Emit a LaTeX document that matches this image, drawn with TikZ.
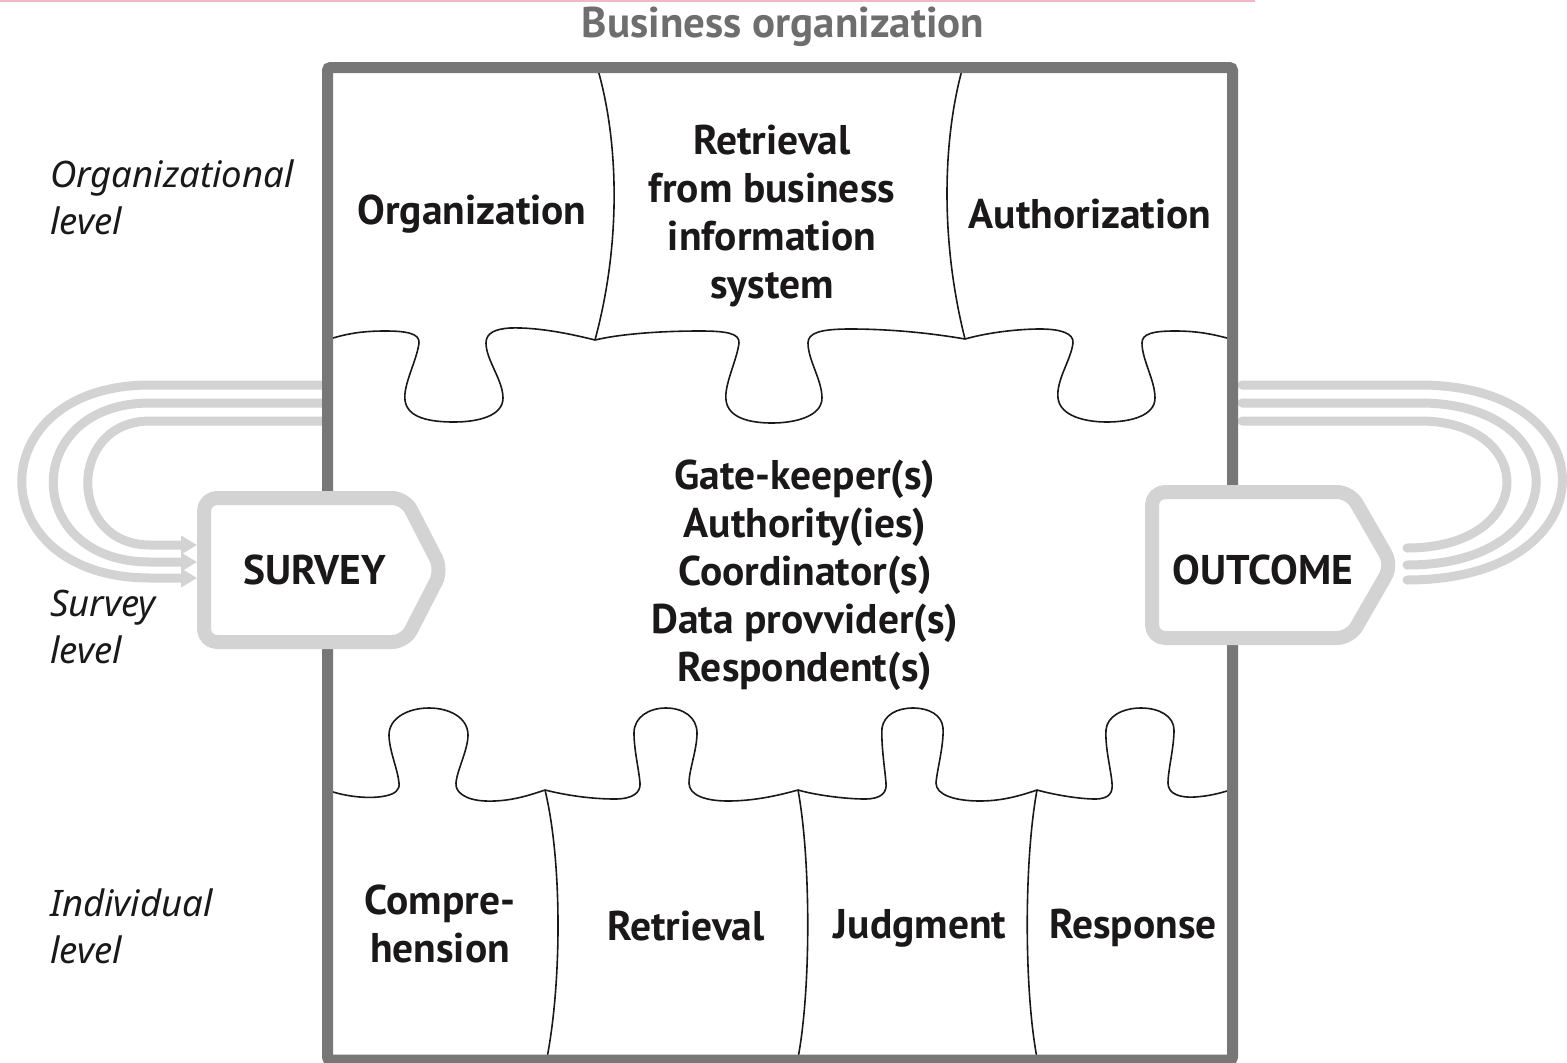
\documentclass[tikz,border=0pt]{standalone}
\usepackage{fontspec}
\setmainfont{PT Sans}
\newfontfamily\levelfont{Noto Sans}
\usetikzlibrary{arrows.meta}

\definecolor{framegray}{HTML}{777777}
\definecolor{loopgray}{HTML}{D3D3D3}
\definecolor{titlegray}{HTML}{6E6E6E}
\definecolor{inkblack}{HTML}{1A1818}
\definecolor{rulepink}{HTML}{F3B6C6}

\begin{document}
\begin{tikzpicture}[x=1pt,y=-1pt,
  frame/.style={draw=framegray, line width=11pt, rounded corners=3pt},
  seam/.style={draw=inkblack, line width=1.6pt, line join=round},
  loop/.style={draw=loopgray, line width=9pt, line cap=round},
  loopin/.style={draw=loopgray, line width=9pt, -{Triangle[length=16pt 0 0, width=18pt 0 0]}},
  stagebox/.style={draw=loopgray, fill=white, line width=14pt, rounded corners=13pt, line join=round},
  piece/.style={font=\bfseries\fontsize{41.5}{48}\selectfont, text=inkblack, align=center, inner sep=0pt},
  level/.style={font=\levelfont\itshape\fontsize{36.5}{47}\selectfont, text=inkblack, align=left, anchor=west, inner sep=0pt},
  title/.style={font=\bfseries\fontsize{43}{48}\selectfont, text=titlegray, inner sep=0pt},
]
\useasboundingbox (0,0) rectangle (1567,1063);

% rule along the top
\draw[rulepink, line width=2.5pt] (0,1) -- (1255,1);

% heading
\node[title] (heading) at (783,27) {Business organization};

% feedback loops on the left (into SURVEY)
\coordinate (inA) at (197,578);
\coordinate (inB) at (197,562);
\coordinate (inC) at (197,545);
\draw[loopin] (322,385) -- (150,385) .. controls (-21,385) and (-21,578) .. (150,578) -- (inA);
\draw[loopin] (322,403) -- (150,403) .. controls (21,403) and (21,562) .. (150,562) -- (inB);
\draw[loopin] (322,421) -- (150,421) .. controls (67,421) and (67,545) .. (150,545) -- (inC);

% feedback loops on the right (out of OUTCOME)
\coordinate (outA) at (1407,580);
\coordinate (outB) at (1407,565);
\coordinate (outC) at (1407,548);
\draw[loop] (1242,385) -- (1420,385) .. controls (1612,385) and (1612,580) .. (outA);
\draw[loop] (1242,403) -- (1420,403) .. controls (1577,403) and (1577,565) .. (outB);
\draw[loop] (1242,421) -- (1420,421) .. controls (1538,421) and (1538,548) .. (outC);

% upper seam with three tabs hanging down
\draw[seam] (333,338)
  .. controls (350,333) and (365,331) .. (385,331)
  .. controls (405,331) and (420,333) .. (419,343)
  .. controls (417,360) and (403,385) .. (405,400)
  .. controls (407,418) and (430,422) .. (454,422)
  .. controls (478,422) and (503,416) .. (503,398)
  .. controls (503,380) and (486,360) .. (486,343)
  .. controls (486,333) and (495,329) .. (510,328)
  .. controls (540,327) and (575,335) .. (595,340)
  .. controls (620,334) and (660,331) .. (700,331)
  .. controls (725,331) and (740,333) .. (739,343)
  .. controls (737,360) and (724,385) .. (726,400)
  .. controls (728,418) and (750,423) .. (772,423)
  .. controls (796,423) and (822,416) .. (822,398)
  .. controls (822,380) and (808,360) .. (808,343)
  .. controls (808,333) and (820,329) .. (850,329)
  .. controls (890,329) and (930,333) .. (965,339)
  .. controls (990,332) and (1020,329) .. (1040,329)
  .. controls (1060,329) and (1074,333) .. (1073,343)
  .. controls (1071,360) and (1056,380) .. (1058,398)
  .. controls (1060,416) and (1085,422) .. (1107,422)
  .. controls (1130,422) and (1155,416) .. (1155,398)
  .. controls (1155,380) and (1142,360) .. (1142,343)
  .. controls (1142,334) and (1152,331) .. (1175,331)
  .. controls (1200,331) and (1215,335) .. (1227,338);

% lower seam with four tabs standing up
\draw[seam] (333,792)
  .. controls (350,797) and (370,799) .. (385,796)
  .. controls (395,794) and (400,790) .. (399,783)
  .. controls (398,770) and (389,750) .. (389,735)
  .. controls (389,718) and (408,708) .. (429,708)
  .. controls (450,708) and (468,718) .. (468,735)
  .. controls (468,750) and (457,770) .. (456,783)
  .. controls (455,792) and (465,800) .. (485,801)
  .. controls (510,802) and (530,795) .. (545,790)
  .. controls (565,795) and (590,799) .. (615,799)
  .. controls (632,799) and (641,793) .. (640,783)
  .. controls (639,770) and (634,750) .. (634,733)
  .. controls (634,717) and (649,708) .. (666,708)
  .. controls (683,708) and (697,717) .. (697,733)
  .. controls (697,750) and (689,770) .. (689,783)
  .. controls (689,795) and (705,801) .. (728,801)
  .. controls (755,801) and (780,795) .. (798,790)
  .. controls (815,795) and (845,799) .. (865,799)
  .. controls (882,799) and (887,792) .. (886,783)
  .. controls (885,770) and (881,745) .. (882,728)
  .. controls (884,715) and (897,708) .. (913,708)
  .. controls (929,708) and (942,715) .. (943,728)
  .. controls (944,745) and (937,770) .. (936,783)
  .. controls (936,795) and (955,801) .. (980,801)
  .. controls (1005,801) and (1025,794) .. (1037,790)
  .. controls (1055,795) and (1080,799) .. (1095,799)
  .. controls (1110,799) and (1113,792) .. (1112,783)
  .. controls (1111,770) and (1105,748) .. (1106,730)
  .. controls (1107,716) and (1123,708) .. (1141,708)
  .. controls (1159,708) and (1174,716) .. (1174,730)
  .. controls (1174,748) and (1168,770) .. (1168,783)
  .. controls (1168,794) and (1180,798) .. (1195,797)
  .. controls (1210,796) and (1220,793) .. (1227,791);

% vertical seams between the pieces
\draw[seam] (598,70) .. controls (618,140) and (622,240) .. (595,340);
\draw[seam] (962,70) .. controls (943,140) and (940,240) .. (965,339);
\draw[seam] (545,790) .. controls (562,860) and (562,980) .. (547,1058);
\draw[seam] (798,790) .. controls (811,860) and (811,990) .. (798,1058);
\draw[seam] (1037,790) .. controls (1024,860) and (1024,990) .. (1037,1058);

% outer frame of the business organization
\draw[frame] (327.5,67.5) rectangle (1232.5,1060);

% survey and outcome tags
\draw[stagebox] (204,498) -- (405,498) -- (442,570) -- (405,642) -- (204,642) -- cycle;
\draw[stagebox] (1152,492) -- (1350,492) -- (1392,565) -- (1350,638) -- (1152,638) -- cycle;
\node[piece] (survey) at (315,570) {SURVEY};
\node[piece] (outcome) at (1263,570) {OUTCOME};

% puzzle piece labels
\node[piece] (org) at (472,214) {Organization};
\node[piece] (fetch) at (772,216) {Retrieval\\from business\\information\\system};
\node[piece] (auth) at (1090,214) {Authorization};
\node[piece] (roles) at (805,575) {Gate-keeper(s)\\Authority(ies)\\Coordinator(s)\\Data provvider(s)\\Respondent(s)};
\node[piece] (comp) at (440,924) {Compre-\\hension};
\node[piece] (retr) at (686,926) {Retrieval};
\node[piece] (judg) at (920,928) {Judgment};
\node[piece] (resp) at (1133,928) {Response};

% level labels
\node[level] (lvorg) at (50,197) {Organizational\\level};
\node[level] (lvsur) at (50,627) {Survey\\level};
\node[level] (lvind) at (50,926) {Individual\\level};
\end{tikzpicture}
\end{document}
